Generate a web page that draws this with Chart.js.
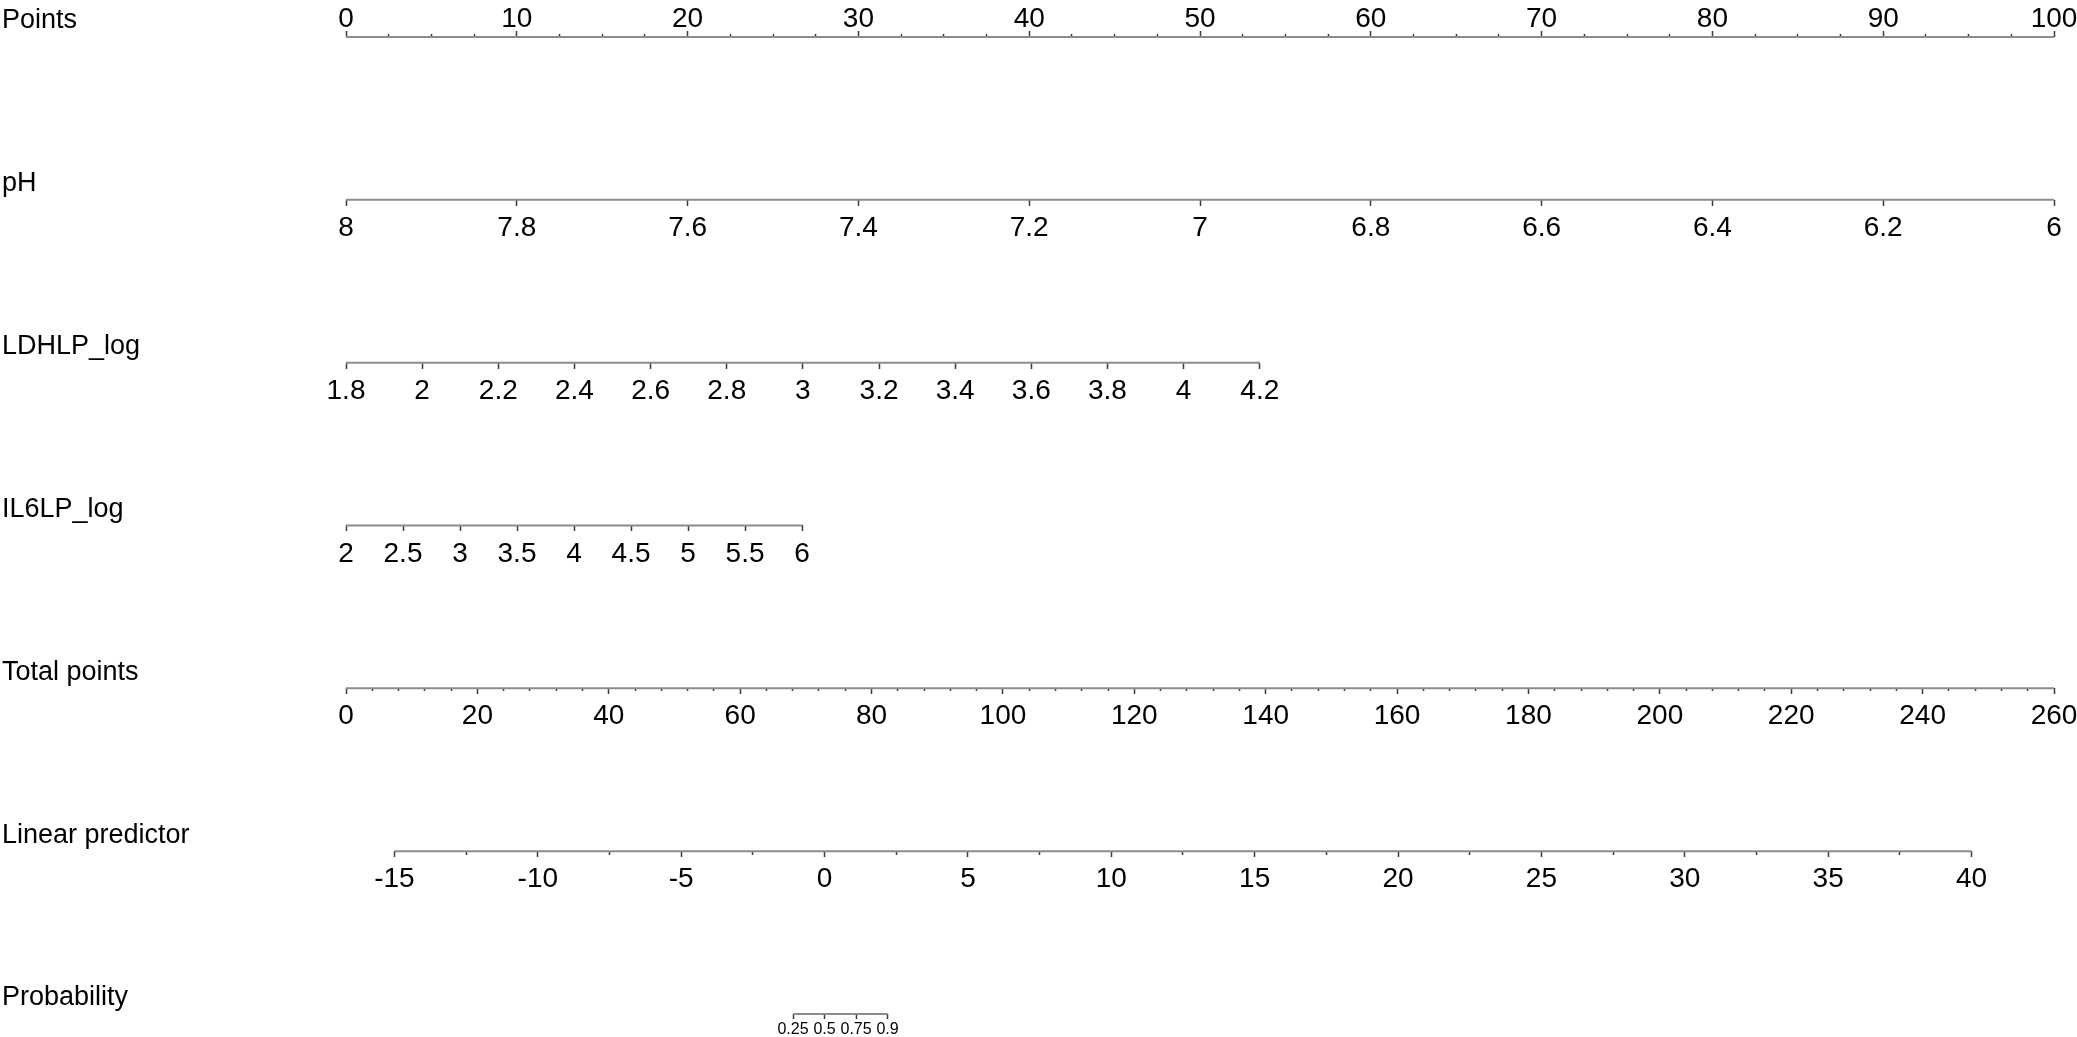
<!DOCTYPE html>
<html><head><meta charset="utf-8">
<script src="https://cdn.jsdelivr.net/npm/chart.js@4.4.1/dist/chart.umd.min.js"></script>
<style>html,body{margin:0;padding:0;background:#fff;overflow:hidden}#wrap{width:2077px;height:1037px;position:relative}</style>
</head><body><div id="wrap"><canvas id="c" width="2077" height="1037"></canvas></div>
<script>
// ---- data ----
const rowTitles = ['Points', 'pH', 'LDHLP_log', 'IL6LP_log', 'Total points', 'Linear predictor', 'Probability'];

const pointsTicks = [0, 10, 20, 30, 40, 50, 60, 70, 80, 90, 100];
const pointsLabels = ['0', '10', '20', '30', '40', '50', '60', '70', '80', '90', '100'];
const pointsMinorStep = 2.5;

const phTicks = [8, 7.8, 7.6, 7.4, 7.2, 7, 6.8, 6.6, 6.4, 6.2, 6];
const phLabels = ['8', '7.8', '7.6', '7.4', '7.2', '7', '6.8', '6.6', '6.4', '6.2', '6'];
const phPoints = [0, 100];          // points at pH 8 and at pH 6

const ldhTicks = [1.8, 2, 2.2, 2.4, 2.6, 2.8, 3, 3.2, 3.4, 3.6, 3.8, 4, 4.2];
const ldhLabels = ['1.8', '2', '2.2', '2.4', '2.6', '2.8', '3', '3.2', '3.4', '3.6', '3.8', '4', '4.2'];
const ldhPoints = [0, 53.5];        // points at 1.8 and at 4.2

const il6Ticks = [2, 2.5, 3, 3.5, 4, 4.5, 5, 5.5, 6];
const il6Labels = ['2', '2.5', '3', '3.5', '4', '4.5', '5', '5.5', '6'];
const il6Points = [0, 26.7];        // points at 2 and at 6

const totalTicks = [0, 20, 40, 60, 80, 100, 120, 140, 160, 180, 200, 220, 240, 260];
const totalLabels = ['0', '20', '40', '60', '80', '100', '120', '140', '160', '180', '200', '220', '240', '260'];
const totalMinorStep = 4;

const lpTicks = [-15, -10, -5, 0, 5, 10, 15, 20, 25, 30, 35, 40];
const lpLabels = ['-15', '-10', '-5', '0', '5', '10', '15', '20', '25', '30', '35', '40'];
const lpTotal = [7.37, 247.45];     // total points at LP -15 and at LP 40
const lpMinorStep = 2.5;

const probTicks = [0.25, 0.5, 0.75, 0.9];
const probLabels = ['0.25', '0.5', '0.75', '0.9'];

// ---- helpers ----
const FONT = '"Liberation Sans", Arial, Helvetica, sans-serif';
const LINE_COLOR = '#8c8c8c';
const TICK_COLOR = '#3a3a3a';
const logit = p => Math.log(p / (1 - p));

function rangeFor(v0, v1, p0, p1, P0, P1) {
  const slope = (v1 - v0) / (p1 - p0);
  const a = v0 + (P0 - p0) * slope;
  const b = v0 + (P1 - p0) * slope;
  return a < b ? {min: a, max: b, reverse: false} : {min: b, max: a, reverse: true};
}
function minorTicks(first, last, step, majors) {
  const out = [];
  const n = Math.round((last - first) / step);
  for (let i = 0; i <= n; i++) {
    const v = first + i * step;
    if (!majors.some(m => Math.abs(m - v) < 1e-9)) out.push(v);
  }
  return out;
}
function zeroPad(s) { s.paddingLeft = 0; s.paddingRight = 0; s.paddingTop = 0; s.paddingBottom = 0; }

function makeAxis(row, range, tickValues, labels, o) {
  return {
    type: 'linear', axis: 'x', position: {y: row},
    min: range.min, max: range.max, reverse: range.reverse, bounds: 'data',
    afterBuildTicks: s => { s.ticks = tickValues.map(v => ({value: v})); },
    afterFit: s => { s.height = 0; zeroPad(s); },
    grid: {display: true, drawOnChartArea: false, drawTicks: true, tickLength: o.tl,
           tickColor: TICK_COLOR, tickWidth: o.tw || 1.5, color: TICK_COLOR},
    border: {display: false},
    ticks: {
      display: !!labels, autoSkip: false, maxRotation: 0, minRotation: 0,
      padding: o.pad || 0, mirror: !!o.mirror,
      font: {family: FONT, size: o.fs || 28}, color: '#000',
      callback: (v, i) => labels ? labels[i] : ''
    }
  };
}
function lineDS(axisId, row, from, to) {
  return {data: [{x: from, y: row}, {x: to, y: row}], xAxisID: axisId, yAxisID: 'y',
          showLine: true, borderColor: LINE_COLOR, borderWidth: 2, pointRadius: 0, fill: false};
}

// ---- ranges ----
const rPoints = {min: 0, max: 100, reverse: false};
const rPH = rangeFor(phTicks[0], phTicks[phTicks.length - 1], phPoints[0], phPoints[1], 0, 100);
const rLDH = rangeFor(ldhTicks[0], ldhTicks[ldhTicks.length - 1], ldhPoints[0], ldhPoints[1], 0, 100);
const rIL6 = rangeFor(il6Ticks[0], il6Ticks[il6Ticks.length - 1], il6Points[0], il6Points[1], 0, 100);
const rTotal = {min: totalTicks[0], max: totalTicks[totalTicks.length - 1], reverse: false};
const rLP = rangeFor(lpTicks[0], lpTicks[lpTicks.length - 1], lpTotal[0], lpTotal[1], rTotal.min, rTotal.max);
const probPos = probTicks.map(logit);

const scales = {
  y: {
    type: 'linear', axis: 'y', position: 'left', min: -0.2272, max: 6.1414, reverse: true, bounds: 'data',
    afterBuildTicks: s => { s.ticks = rowTitles.map((t, i) => ({value: i - 0.098})); },
    afterFit: s => { s.width = 344; zeroPad(s); },
    grid: {display: false, drawTicks: false}, border: {display: false},
    ticks: {crossAlign: 'far', padding: 0, autoSkip: false, font: {family: FONT, size: 27}, color: '#000',
            callback: (v, i) => rowTitles[i]}
  },
  xPoints: makeAxis(0, rPoints, pointsTicks, pointsLabels, {tl: -6, pad: 4.8, mirror: true}),
  xPointsMinor: makeAxis(0, rPoints, minorTicks(0, 100, pointsMinorStep, pointsTicks), null, {tl: -3}),
  xPH: makeAxis(1, rPH, phTicks, phLabels, {tl: 6, pad: 5.5}),
  xLDH: makeAxis(2, rLDH, ldhTicks, ldhLabels, {tl: 6, pad: 5.5}),
  xIL6: makeAxis(3, rIL6, il6Ticks, il6Labels, {tl: 6, pad: 5.5}),
  xTotal: makeAxis(4, rTotal, totalTicks, totalLabels, {tl: 6, pad: 5.5}),
  xTotalMinor: makeAxis(4, rTotal, minorTicks(0, 260, totalMinorStep, totalTicks), null, {tl: 3}),
  xLP: makeAxis(5, rLP, lpTicks, lpLabels, {tl: 6, pad: 5.5}),
  xLPMinor: makeAxis(5, rLP, minorTicks(-15, 40, lpMinorStep, lpTicks), null, {tl: 4}),
  xProb: makeAxis(6, rLP, probPos, probLabels, {tl: 5, pad: 1, fs: 16})
};

const datasets = [
  lineDS('xPoints', 0, pointsTicks[0], pointsTicks[pointsTicks.length - 1]),
  lineDS('xPH', 1, phTicks[0], phTicks[phTicks.length - 1]),
  lineDS('xLDH', 2, ldhTicks[0], ldhTicks[ldhTicks.length - 1]),
  lineDS('xIL6', 3, il6Ticks[0], il6Ticks[il6Ticks.length - 1]),
  lineDS('xTotal', 4, totalTicks[0], totalTicks[totalTicks.length - 1]),
  lineDS('xLP', 5, lpTicks[0], lpTicks[lpTicks.length - 1]),
  lineDS('xProb', 6, probPos[0], probPos[probPos.length - 1])
];

new Chart(document.getElementById('c'), {
  type: 'scatter',
  data: {datasets},
  options: {
    responsive: false, animation: false, events: [],
    layout: {padding: {left: 2, right: 23, top: 0, bottom: 0}},
    plugins: {legend: {display: false}, tooltip: {enabled: false}},
    scales
  }
});
</script>
</body></html>
